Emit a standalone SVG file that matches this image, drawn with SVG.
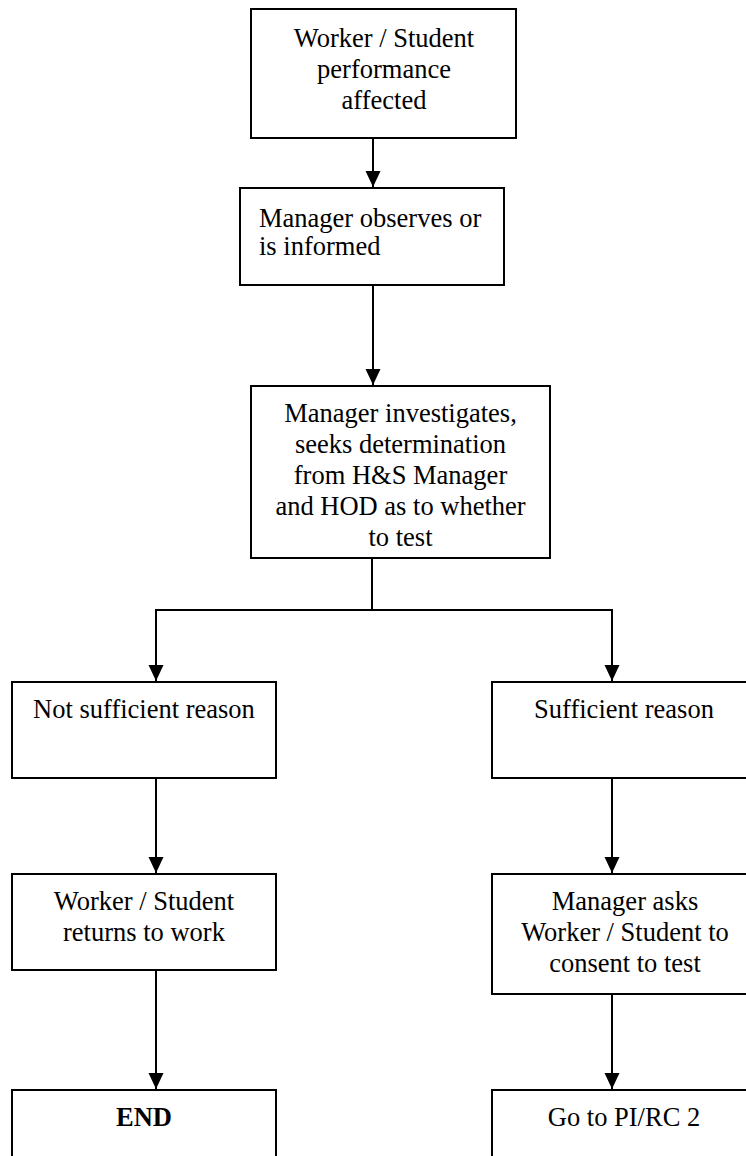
<svg xmlns="http://www.w3.org/2000/svg" width="746" height="1156" viewBox="0 0 746 1156">
  <style>
    .box { fill: #ffffff; stroke: #000000; stroke-width: 2; }
    .t { font-family: "Liberation Serif", "Times New Roman", serif; font-size: 26.5px; fill: #000000; }
    .c { text-anchor: middle; }
    .b { font-weight: bold; }
    .ln { fill: none; stroke: #000000; stroke-width: 2; }
  </style>
  <defs>
    <marker id="ah" markerUnits="userSpaceOnUse" markerWidth="16" markerHeight="16" refX="16" refY="7.5" orient="auto">
      <path d="M0,0 L16,7.5 L0,15 Z" fill="#000000"/>
    </marker>
  </defs>
  <rect width="746" height="1156" fill="#ffffff"/>

  <g id="connectors">
    <path class="ln" d="M373,139 V187" marker-end="url(#ah)"/>
    <path class="ln" d="M373,286 V385" marker-end="url(#ah)"/>
    <path class="ln" d="M372,559 V610"/>
    <path class="ln" d="M155,610 H613"/>
    <path class="ln" d="M156,610 V681" marker-end="url(#ah)"/>
    <path class="ln" d="M612,610 V681" marker-end="url(#ah)"/>
    <path class="ln" d="M156,778 V873" marker-end="url(#ah)"/>
    <path class="ln" d="M612,778 V873" marker-end="url(#ah)"/>
    <path class="ln" d="M156,970 V1089" marker-end="url(#ah)"/>
    <path class="ln" d="M612,994 V1089" marker-end="url(#ah)"/>
  </g>

  <g id="node-performance">
    <rect class="box" x="251" y="9" width="265" height="129"/>
    <text class="t c" x="384" y="47">Worker / Student</text>
    <text class="t c" x="384" y="78">performance</text>
    <text class="t c" x="384" y="109">affected</text>
  </g>

  <g id="node-observes">
    <rect class="box" x="240" y="188" width="264" height="97"/>
    <text class="t" x="259" y="227">Manager observes or</text>
    <text class="t" x="259" y="255">is informed</text>
  </g>

  <g id="node-investigates">
    <rect class="box" x="251" y="386" width="299" height="172"/>
    <text class="t c" x="400.5" y="422">Manager investigates,</text>
    <text class="t c" x="400.5" y="453">seeks determination</text>
    <text class="t c" x="400.5" y="484">from H&amp;S Manager</text>
    <text class="t c" x="400.5" y="515">and HOD as to whether</text>
    <text class="t c" x="400.5" y="546">to test</text>
  </g>

  <g id="node-not-sufficient">
    <rect class="box" x="12" y="682" width="264" height="96"/>
    <text class="t c" x="144" y="718">Not sufficient reason</text>
  </g>

  <g id="node-sufficient">
    <rect class="box" x="492" y="682" width="266" height="96"/>
    <text class="t c" x="624" y="718">Sufficient reason</text>
  </g>

  <g id="node-returns">
    <rect class="box" x="12" y="874" width="264" height="96"/>
    <text class="t c" x="144" y="910">Worker / Student</text>
    <text class="t c" x="144" y="941">returns to work</text>
  </g>

  <g id="node-consent">
    <rect class="box" x="492" y="874" width="266" height="120"/>
    <text class="t c" x="625" y="910">Manager asks</text>
    <text class="t c" x="625" y="941">Worker / Student to</text>
    <text class="t c" x="625" y="972">consent to test</text>
  </g>

  <g id="node-end">
    <rect class="box" x="12" y="1090" width="264" height="80"/>
    <text class="t c b" x="144" y="1126">END</text>
  </g>

  <g id="node-pirc2">
    <rect class="box" x="492" y="1090" width="266" height="80"/>
    <text class="t c" x="624" y="1126">Go to PI/RC 2</text>
  </g>
</svg>
